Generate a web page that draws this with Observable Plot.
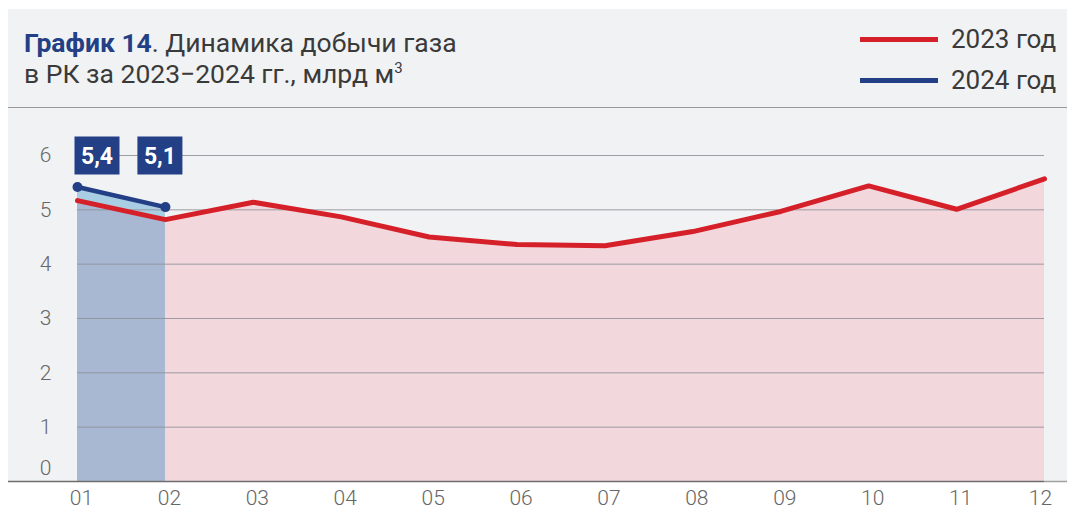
<!DOCTYPE html>
<html>
<head>
<meta charset="utf-8">
<script src="https://cdn.jsdelivr.net/npm/d3@7"></script>
<script src="https://cdn.jsdelivr.net/npm/@observablehq/plot@0.6"></script>
<style>
  html, body { margin: 0; padding: 0; background: #fff; width: 1067px; height: 520px; overflow: hidden; font-family: Roboto, "Noto Sans", sans-serif; }
  #panel { position: absolute; left: 8px; top: 9px; width: 1059px; height: 472px; background: #f1f2f4; }
  #sep { position: absolute; left: 8px; top: 107px; width: 1059px; height: 0; border-top: 1.5px solid #9a9a9a; }
  #title { position: absolute; left: 24px; top: 27px; font-size: 26.5px; line-height: 31px; color: #3a3a3a; font-weight: 400; }
  #title b { color: #233f85; font-weight: 700; }
  #title sup { font-size: 15px; vertical-align: 10px; line-height: 0; }
  .leg { position: absolute; left: 860px; font-size: 26px; color: #3a3a3a; display: flex; align-items: center; }
  .leg span.sw { display: inline-block; width: 78px; height: 5px; margin-right: 13px; }
  #chart { position: absolute; left: 0; top: 108px; }
</style>
</head>
<body>
<div id="panel"></div>
<div id="sep"></div>
<div id="title"><b>График 14</b>. Динамика добычи газа<br>в РК за 2023−2024 гг., млрд м<sup>3</sup></div>
<div class="leg" style="top:24px"><span class="sw" style="background:#d52029"></span>2023 год</div>
<div class="leg" style="top:65px"><span class="sw" style="background:#233f85"></span>2024 год</div>
<div id="chart"></div>
<script>
const months = ["01","02","03","04","05","06","07","08","09","10","11","12"];
const values2023 = [5.17, 4.82, 5.14, 4.87, 4.50, 4.36, 4.34, 4.60, 4.97, 5.44, 5.01, 5.57];
const months2024 = ["01","02"];
const values2024 = [5.42, 5.05];
const labels2024 = ["5,4", "5,1"];
const yTicks = [1, 2, 3, 4, 5, 6];

const d2023 = months.map((m, i) => ({month: m, value: values2023[i]}));
const d2024 = months2024.map((m, i) => ({month: m, value: values2024[i], label: labels2024[i]}));
const d2023early = d2023.filter(d => months2024.includes(d.month));

const boxSymbol = {
  draw(context) {
    context.rect(-22.5, -19, 45, 38);
  }
};

const red = "#d52029", blue = "#233f85";
const tickStyle = {tickSize: 0, fontSize: 21, fill: "#666", fontWeight: 300, label: null, tickFormat: d => String(d)};

const chart = Plot.plot({
  width: 1067,
  height: 412,
  marginLeft: 77,
  marginRight: 23,
  marginTop: 47,
  marginBottom: 39,
  style: {background: "transparent", fontFamily: "Roboto, sans-serif", overflow: "visible"},
  x: {type: "point", domain: months, padding: 0, round: false},
  y: {domain: [0, 6]},
  marks: [
    Plot.areaY(d2023, {x: "month", y: "value", fill: "#f2d8dd"}),
    Plot.areaY(d2024, {x: "month", y: "value", fill: "#a9cde3"}),
    Plot.areaY(d2023early, {x: "month", y: "value", fill: "#a8b8d3"}),
    Plot.ruleY(yTicks, {stroke: "#8f8f94", strokeWidth: 1, strokeOpacity: 0.85}),
    Plot.ruleY([0], {stroke: "#6e6e6e", strokeWidth: 1.5, insetLeft: -69, insetRight: 0}),
    Plot.ruleY([0], {stroke: "#a0a0a0", strokeWidth: 1.5, insetLeft: 967, insetRight: -23}),
    Plot.lineY(d2023, {x: "month", y: "value", stroke: red, strokeWidth: 5}),
    Plot.lineY(d2024, {x: "month", y: "value", stroke: blue, strokeWidth: 4.5}),
    Plot.dot(d2024, {x: "month", y: "value", fill: blue, r: 5}),
    Plot.dot(d2024.filter((d, i) => i === 0), {x: "month", y: 6, symbol: boxSymbol, fill: blue, r: 1, dx: 19.5}),
    Plot.dot(d2024.filter((d, i) => i === 1), {x: "month", y: 6, symbol: boxSymbol, fill: blue, r: 1, dx: -5.5}),
    Plot.text(d2024.filter((d, i) => i === 0), {x: "month", y: 6, text: "label", fill: "#fff", fontSize: 23, fontWeight: 700, dx: 19.5, dy: 1}),
    Plot.text(d2024.filter((d, i) => i === 1), {x: "month", y: 6, text: "label", fill: "#fff", fontSize: 23, fontWeight: 700, dx: -5.5, dy: 1}),
    Plot.axisY(yTicks, {...tickStyle, tickPadding: 26}),
    Plot.axisY([0], {...tickStyle, tickPadding: 26, dy: -13}),
    Plot.axisX(months.slice(0, 11), {...tickStyle, tickPadding: 9, dx: 4}),
    Plot.axisX(months.slice(11), {...tickStyle, tickPadding: 9, dx: -4})
  ]
});
document.getElementById("chart").appendChild(chart);
</script>
</body>
</html>
